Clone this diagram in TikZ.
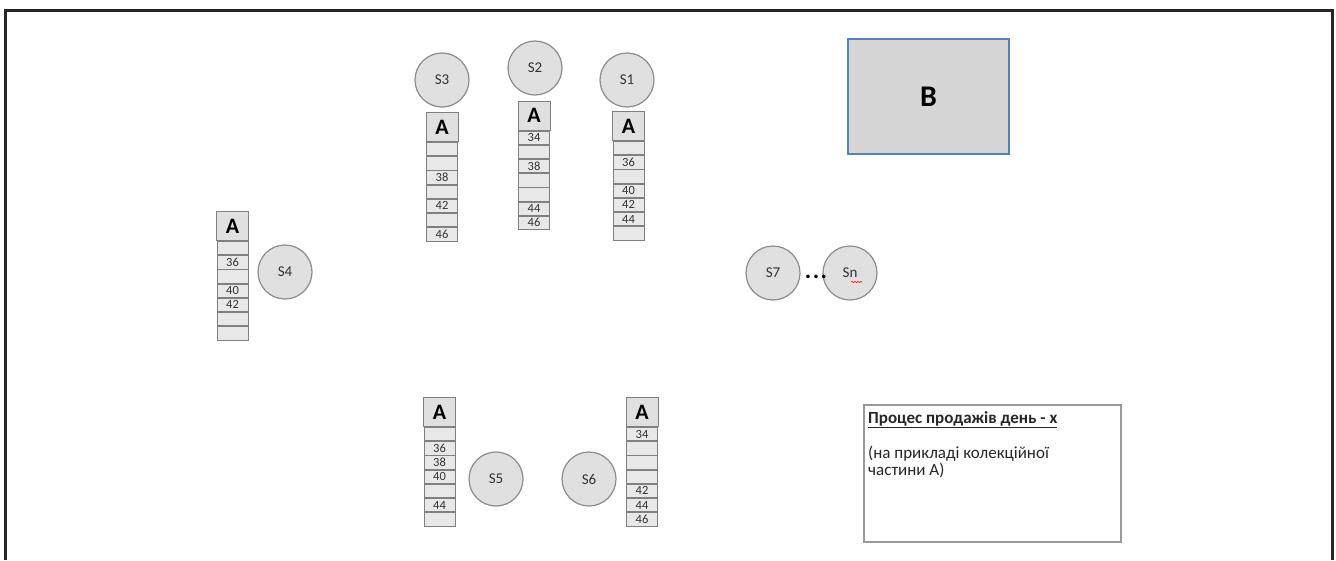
\documentclass[tikz,border=0pt]{standalone}
\usepackage{fontspec}
\setmainfont{Carlito}
\usetikzlibrary{positioning, decorations.pathmorphing}
\definecolor{boxblue}{HTML}{5582B8}
\definecolor{boxgray}{HTML}{D6D6D6}

\begin{document}
\begin{tikzpicture}[
    x=1pt, y=-1pt,
    node distance=0pt,
    shop/.style={circle, draw=black!45, fill=black!12, line width=1.2pt, minimum size=54pt, inner sep=0pt, font=\fontsize{15}{17}\selectfont, text=black!80},
    head/.style={rectangle, draw=black!50, fill=black!12, line width=1pt, minimum width=32pt, minimum height=29pt, inner sep=0pt, font=\bfseries\fontsize{22}{24}\selectfont},
    slot/.style={rectangle, draw=black!50, fill=black!9, line width=0.8pt, minimum width=31pt, minimum height=13.4pt, inner sep=0pt, font=\fontsize{12.5}{12}\selectfont, text=black!80},
    store/.style={rectangle, draw=boxblue, fill=boxgray, line width=2pt, minimum width=161pt, minimum height=115pt, font=\bfseries\fontsize{30}{32}\selectfont},
    note/.style={rectangle, draw=black!40, line width=1.5pt, minimum width=257pt, minimum height=137pt}
]
\useasboundingbox (0,0) rectangle (1336,560);
\draw[line width=3pt, black!85] (5,560) -- (5,10) -- (1332,10) -- (1332,560);

% shops
\node[shop] (s3) at (442,80) {S3};
\node[shop] (s2) at (535,68) {S2};
\node[shop] (s1) at (627,80) {S1};
\node[shop] (s4) at (285,272) {S4};
\node[shop] (s5) at (496,479) {S5};
\node[shop] (s6) at (589,479) {S6};
\node[shop] (s7) at (773,273) {S7};
\node[shop] (sn) at (850,273) {Sn};
\node[font=\bfseries\fontsize{24}{24}\selectfont] (dots) at (816,277) {.\kern1.5pt.\kern1.5pt.};
\draw[red, line width=0.6pt, decorate, decoration={snake, amplitude=0.6pt, segment length=3pt}] ([shift={(1,9)}]sn.center) -- ++(11,0);

% stack of S3
\node[head] (a3) at (442,127) {A};
\node[slot, below=of a3] (a3s1) {};
\node[slot, below=of a3s1] (a3s2) {};
\node[slot, below=of a3s2] (a3s3) {38};
\node[slot, below=of a3s3] (a3s4) {};
\node[slot, below=of a3s4] (a3s5) {42};
\node[slot, below=of a3s5] (a3s6) {};
\node[slot, below=of a3s6] (a3s7) {46};

% stack of S2
\node[head] (a2) at (534,115.5) {A};
\node[slot, below=of a2] (a2s1) {34};
\node[slot, below=of a2s1] (a2s2) {};
\node[slot, below=of a2s2] (a2s3) {38};
\node[slot, below=of a2s3] (a2s4) {};
\node[slot, below=of a2s4] (a2s5) {};
\node[slot, below=of a2s5] (a2s6) {44};
\node[slot, below=of a2s6] (a2s7) {46};

% stack of S1
\node[head] (a1) at (628.5,126) {A};
\node[slot, below=of a1] (a1s1) {};
\node[slot, below=of a1s1] (a1s2) {36};
\node[slot, below=of a1s2] (a1s3) {};
\node[slot, below=of a1s3] (a1s4) {40};
\node[slot, below=of a1s4] (a1s5) {42};
\node[slot, below=of a1s5] (a1s6) {44};
\node[slot, below=of a1s6] (a1s7) {};

% stack of S4
\node[head] (a4) at (232.5,226) {A};
\node[slot, below=of a4] (a4s1) {};
\node[slot, below=of a4s1] (a4s2) {36};
\node[slot, below=of a4s2] (a4s3) {};
\node[slot, below=of a4s3] (a4s4) {40};
\node[slot, below=of a4s4] (a4s5) {42};
\node[slot, below=of a4s5] (a4s6) {};
\node[slot, below=of a4s6] (a4s7) {};

% stack of S5
\node[head] (a5) at (439.5,412) {A};
\node[slot, below=of a5] (a5s1) {};
\node[slot, below=of a5s1] (a5s2) {36};
\node[slot, below=of a5s2] (a5s3) {38};
\node[slot, below=of a5s3] (a5s4) {40};
\node[slot, below=of a5s4] (a5s5) {};
\node[slot, below=of a5s5] (a5s6) {44};
\node[slot, below=of a5s6] (a5s7) {};

% stack of S6
\node[head] (a6) at (642,412) {A};
\node[slot, below=of a6] (a6s1) {34};
\node[slot, below=of a6s1] (a6s2) {};
\node[slot, below=of a6s2] (a6s3) {};
\node[slot, below=of a6s3] (a6s4) {};
\node[slot, below=of a6s4] (a6s5) {42};
\node[slot, below=of a6s5] (a6s6) {44};
\node[slot, below=of a6s6] (a6s7) {46};

% warehouse and caption
\node[store] (b) at (928.5,96.5) {B};
\node[note, anchor=north west] (note) at (863,404) {};
\node[anchor=north west, align=left, inner sep=0pt, font=\fontsize{17}{17}\selectfont, text=black!85] (caption) at (868,411)
    {\textbf{\underline{Процес продажів день - х}}\\[17pt](на прикладі колекційної\\частини А)};

\end{tikzpicture}
\end{document}
